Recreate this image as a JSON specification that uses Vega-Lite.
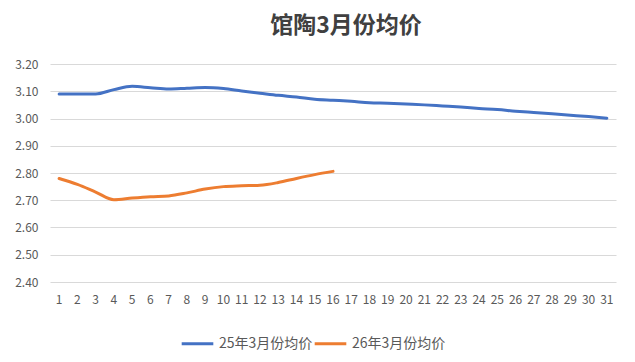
{
  "$schema": "https://vega.github.io/schema/vega-lite/v6.json",
  "width": 566,
  "height": 218,
  "autosize": {"type": "none"},
  "padding": {"left": 50, "right": 19, "top": 64, "bottom": 80},
  "background": "white",
  "title": {
    "text": "馆陶3月份均价",
    "font": "Noto Sans CJK SC",
    "fontSize": 23,
    "fontWeight": "bold",
    "color": "#404040",
    "anchor": "middle",
    "dx": 13,
    "offset": 20
  },
  "data": {
    "values": [
      {"day": 1, "series": "25年3月份均价", "price": 3.090},
      {"day": 2, "series": "25年3月份均价", "price": 3.090},
      {"day": 3, "series": "25年3月份均价", "price": 3.090},
      {"day": 4, "series": "25年3月份均价", "price": 3.106},
      {"day": 5, "series": "25年3月份均价", "price": 3.118},
      {"day": 6, "series": "25年3月份均价", "price": 3.113},
      {"day": 7, "series": "25年3月份均价", "price": 3.108},
      {"day": 8, "series": "25年3月份均价", "price": 3.111},
      {"day": 9, "series": "25年3月份均价", "price": 3.114},
      {"day": 10, "series": "25年3月份均价", "price": 3.110},
      {"day": 11, "series": "25年3月份均价", "price": 3.101},
      {"day": 12, "series": "25年3月份均价", "price": 3.093},
      {"day": 13, "series": "25年3月份均价", "price": 3.085},
      {"day": 14, "series": "25年3月份均价", "price": 3.079},
      {"day": 15, "series": "25年3月份均价", "price": 3.071},
      {"day": 16, "series": "25年3月份均价", "price": 3.067},
      {"day": 17, "series": "25年3月份均价", "price": 3.063},
      {"day": 18, "series": "25年3月份均价", "price": 3.058},
      {"day": 19, "series": "25年3月份均价", "price": 3.056},
      {"day": 20, "series": "25年3月份均价", "price": 3.053},
      {"day": 21, "series": "25年3月份均价", "price": 3.050},
      {"day": 22, "series": "25年3月份均价", "price": 3.046},
      {"day": 23, "series": "25年3月份均价", "price": 3.042},
      {"day": 24, "series": "25年3月份均价", "price": 3.037},
      {"day": 25, "series": "25年3月份均价", "price": 3.033},
      {"day": 26, "series": "25年3月份均价", "price": 3.027},
      {"day": 27, "series": "25年3月份均价", "price": 3.022},
      {"day": 28, "series": "25年3月份均价", "price": 3.017},
      {"day": 29, "series": "25年3月份均价", "price": 3.012},
      {"day": 30, "series": "25年3月份均价", "price": 3.007},
      {"day": 31, "series": "25年3月份均价", "price": 3.001},
      {"day": 1, "series": "26年3月份均价", "price": 2.780},
      {"day": 2, "series": "26年3月份均价", "price": 2.758},
      {"day": 3, "series": "26年3月份均价", "price": 2.730},
      {"day": 4, "series": "26年3月份均价", "price": 2.702},
      {"day": 5, "series": "26年3月份均价", "price": 2.708},
      {"day": 6, "series": "26年3月份均价", "price": 2.713},
      {"day": 7, "series": "26年3月份均价", "price": 2.716},
      {"day": 8, "series": "26年3月份均价", "price": 2.727},
      {"day": 9, "series": "26年3月份均价", "price": 2.741},
      {"day": 10, "series": "26年3月份均价", "price": 2.750},
      {"day": 11, "series": "26年3月份均价", "price": 2.753},
      {"day": 12, "series": "26年3月份均价", "price": 2.755},
      {"day": 13, "series": "26年3月份均价", "price": 2.765},
      {"day": 14, "series": "26年3月份均价", "price": 2.780},
      {"day": 15, "series": "26年3月份均价", "price": 2.794},
      {"day": 16, "series": "26年3月份均价", "price": 2.806}
    ]
  },
  "mark": {"type": "line", "strokeWidth": 3, "strokeCap": "round", "strokeJoin": "round", "interpolate": "monotone"},
  "encoding": {
    "x": {
      "field": "day",
      "type": "ordinal",
      "scale": {"type": "band", "paddingInner": 0, "paddingOuter": 0},
      "axis": {
        "title": null,
        "labelAngle": 0,
        "ticks": false,
        "domain": false,
        "grid": false,
        "labelPadding": 12,
        "labelFont": "Noto Sans CJK SC",
        "labelFontSize": 12,
        "labelColor": "#595959"
      }
    },
    "y": {
      "field": "price",
      "type": "quantitative",
      "scale": {"domain": [2.4, 3.2], "nice": false, "zero": false},
      "axis": {
        "title": null,
        "values": [2.4, 2.5, 2.6, 2.7, 2.8, 2.9, 3.0, 3.1, 3.2],
        "format": ".2f",
        "ticks": false,
        "domain": false,
        "gridColor": "#D9D9D9",
        "labelPadding": 12,
        "labelFont": "Noto Sans CJK SC",
        "labelFontSize": 12,
        "labelColor": "#595959"
      }
    },
    "color": {
      "field": "series",
      "type": "nominal",
      "scale": {"domain": ["25年3月份均价", "26年3月份均价"], "range": ["#4472C4", "#ED7D31"]},
      "legend": {
        "title": null,
        "orient": "none",
        "legendX": 130,
        "legendY": 262,
        "direction": "horizontal",
        "symbolType": "stroke",
        "symbolStrokeWidth": 3,
        "symbolSize": 1000,
        "labelFont": "Noto Sans CJK SC",
        "labelFontSize": 14,
        "labelColor": "#595959",
        "columnPadding": -8
      }
    }
  },
  "config": {"view": {"stroke": null}}
}
